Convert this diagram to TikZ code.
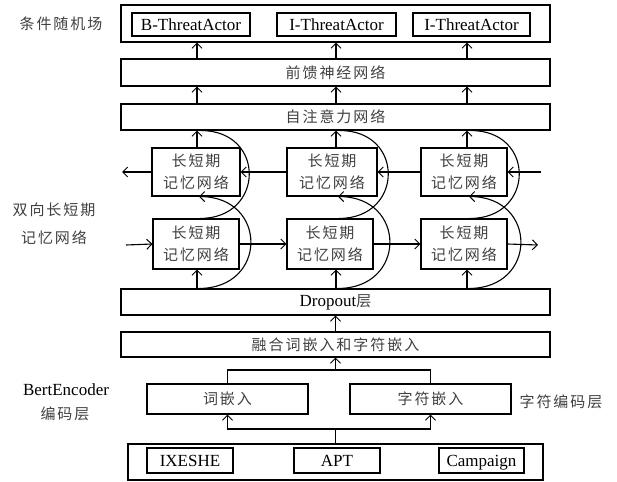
\documentclass[tikz,border=0pt]{standalone}
\usepackage{fontspec}
\setmainfont{Liberation Serif}
\newfontfamily\cjk[LetterSpace=13]{Noto Sans CJK SC}
\usetikzlibrary{arrows.meta,calc}

\begin{document}
\begin{tikzpicture}[x=1pt,y=-1pt,
  line width=1.1pt,
  >={Straight Barb[length=5pt,width=10pt,line width=1pt]},
  box/.style={draw,rectangle,inner sep=0pt,anchor=center},
  lat/.style={font=\fontsize{17}{20}\selectfont},
  zh/.style={font=\fontsize{15}{22}\selectfont\cjk,text=black!75},
  wide/.style={box,minimum width=429pt},
  cell/.style={box,zh,align=center,minimum height=48pt},
  tag/.style={box,lat,minimum height=23pt,text height=13pt,text depth=1.7pt},
  src/.style={box,lat,minimum height=25pt,text height=13pt,text depth=1.7pt},
]
\useasboundingbox (0,0) rectangle (617,481);

% column positions of the vertical data flow
\coordinate (c1) at (197,0);
\coordinate (c2) at (336,0);
\coordinate (c3) at (467,0);

% CRF output layer
\node[wide,minimum height=37pt] (crf) at (335.5,23.5) {};
\node[tag,minimum width=118pt] (t1) at (191,24.5) {B-ThreatActor};
\node[tag,minimum width=119pt] (t2) at (336.5,24.5) {I-ThreatActor};
\node[tag,minimum width=117pt] (t3) at (471.5,24.5) {I-ThreatActor};

% feed-forward and self-attention
\node[wide,zh,minimum height=27pt] (ffn) at (335.5,72.5) {前馈神经网络};
\node[wide,zh,minimum height=26pt] (att) at (335.5,117) {自注意力网络};

% BiLSTM cells: backward row (top) and forward row (bottom)
\node[cell,minimum width=88pt] (lt1) at (196,172) {长短期\\记忆网络};
\node[cell,minimum width=90pt] (lt2) at (332,172) {长短期\\记忆网络};
\node[cell,minimum width=86pt] (lt3) at (464,172) {长短期\\记忆网络};
\node[cell,minimum width=86pt,minimum height=50pt] (lb1) at (196,244) {长短期\\记忆网络};
\node[cell,minimum width=86pt,minimum height=50pt] (lb2) at (330,244) {长短期\\记忆网络};
\node[cell,minimum width=86pt,minimum height=50pt] (lb3) at (464,244) {长短期\\记忆网络};

% dropout and fusion
\node[wide,lat,minimum height=26pt] (drop) at (335.5,302) {Dropout{\cjk\fontsize{15}{20}\selectfont\color{black!75}层}};
\node[wide,zh,minimum height=25pt] (fuse) at (335.5,344.5) {融合词嵌入和字符嵌入};

% embeddings
\node[box,zh,minimum width=161pt,minimum height=30pt] (we) at (227.5,399) {词嵌入};
\node[box,zh,minimum width=161pt,minimum height=30pt] (ce) at (430.5,399) {字符嵌入};

% input tokens
\node[box,minimum width=415pt,minimum height=36pt] (inp) at (335.5,462) {};
\node[src,minimum width=86pt] (i1) at (190,460.5) {IXESHE};
\node[src,minimum width=86pt] (i2) at (337,460.5) {APT};
\node[src,minimum width=85pt] (i3) at (481.5,460.5) {Campaign};

% side labels
\node[zh] (lcrf) at (61,24) {条件随机场};
\node[zh,align=center,font=\fontsize{15}{28}\selectfont\cjk] (llstm) at (54,224) {双向长短期\\记忆网络};
\node[lat] (lbert) at (66,390) {BertEncoder};
\node[zh] (lbert2) at (65,414) {编码层};
\node[zh] (lchar) at (561,402) {字符编码层};

% free ends of the recurrent chains
\coordinate (tin) at (541,172);
\coordinate (tout) at (122,172);
\coordinate (bin) at (126,245);
\coordinate (bout) at (538,245);

% backward chain
\draw[->] (tin) -- (lt3.east);
\draw[->] (lt3.west) -- (lt2.east);
\draw[->] (lt2.west) -- (lt1.east);
\draw[->] (lt1.west) -- (tout);
% forward chain
\draw[->] (bin) -- (lb1.west);
\draw[->] (lb1.east) -- (lb2.west);
\draw[->] (lb2.east) -- (lb3.west);
\draw[->] (lb3.east) -- (bout);

% vertical flow per column
\foreach \k in {1,2,3} {
  \draw[->] (drop.north -| c\k) -- (lb\k.south -| c\k);
  \draw[->] (lt\k.north -| c\k) -- (att.south -| c\k);
  \draw[->] (att.north -| c\k) -- (ffn.south -| c\k);
  \draw[->] (ffn.north -| c\k) -- (crf.south -| c\k);
  % forward output bypasses the backward cell
  \draw ($(lb\k.north -| c\k)+(3,0)$) .. controls +(65,0) and +(65,0) .. ($(att.south -| c\k)+(4,0)$);
  % dropout output feeds the backward cell
  \draw[->] ($(drop.north -| c\k)+(2,0)$) .. controls +(69,0) and +(69,0) .. ($(lt\k.south -| c\k)+(2,0)$);
}

% embedding merge
\coordinate (j2) at (335.5,370);
\draw (we.north) |- (j2) -| (ce.north);
\draw[->] (j2) -- (fuse.south);
\draw[->] (fuse.north) -- (drop.south);

% input split
\coordinate (j1) at (335.5,429);
\draw (inp.north -| j1) -- (j1);
\draw[->] (j1) -| (we.south);
\draw[->] (j1) -| (ce.south);
\end{tikzpicture}
\end{document}
